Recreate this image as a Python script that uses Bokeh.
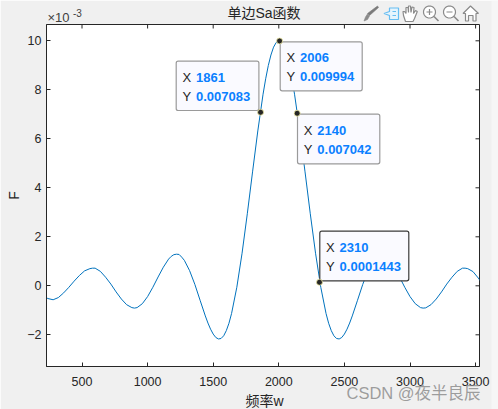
from math import pi, cos, sin
from bokeh.plotting import figure
from bokeh.layouts import column
from bokeh.models import FixedTicker, Label, BoxAnnotation, Range1d
from bokeh.core.properties import value
from bokeh.embed import file_html
from bokeh.resources import INLINE

# ---- data (F in units of 1e-3) ----
freq = [233, 240, 280, 320, 360, 400, 440, 480, 520, 560, 580, 600, 640, 680, 720, 760, 800, 840, 880, 900, 920,
        960, 1000, 1040, 1080, 1120, 1160, 1180, 1200, 1220, 1240, 1260, 1280, 1320, 1360, 1400, 1440, 1460, 1480,
        1500, 1520, 1540, 1560, 1580, 1600, 1620, 1640, 1680, 1720, 1760, 1800, 1840, 1880, 1900, 1920, 1940, 1960,
        1980, 2000, 2020, 2040, 2060, 2080, 2100, 2120, 2160, 2200, 2240, 2280, 2320, 2360, 2380, 2400, 2420, 2440,
        2460, 2480, 2500, 2520, 2540, 2560, 2600, 2640, 2680, 2720, 2740, 2760, 2780, 2800, 2820, 2840, 2880, 2920,
        2960, 3000, 3040, 3080, 3100, 3120, 3160, 3200, 3240, 3280, 3320, 3360, 3400, 3420, 3440, 3480, 3520, 3540]
amp = [-0.50, -0.52, -0.57, -0.48, -0.29, -0.06, 0.19, 0.42, 0.61, 0.70, 0.72, 0.72, 0.59, 0.35, 0.07, -0.25,
       -0.54, -0.77, -0.89, -0.91, -0.89, -0.73, -0.44, -0.06, 0.36, 0.76, 1.09, 1.20, 1.27, 1.29, 1.28, 1.17,
       1.04, 0.62, 0.06, -0.59, -1.23, -1.52, -1.77, -1.97, -2.11, -2.17, -2.15, -2.04, -1.83, -1.53, -1.13,
       -0.06, 1.33, 2.94, 4.65, 6.32, 7.82, 8.45, 8.99, 9.42, 9.74, 9.93, 10.0, 9.93, 9.74, 9.42, 8.99, 8.45,
       7.82, 6.32, 4.65, 2.94, 1.33, -0.06, -1.13, -1.53, -1.83, -2.04, -2.15, -2.17, -2.11, -1.97, -1.77,
       -1.52, -1.23, -0.59, 0.06, 0.62, 1.04, 1.17, 1.27, 1.29, 1.28, 1.20, 1.09, 0.76, 0.36, -0.06, -0.44,
       -0.73, -0.89, -0.91, -0.90, -0.77, -0.54, -0.25, 0.07, 0.35, 0.59, 0.72, 0.72, 0.70, 0.58, 0.32, 0.17]
tip_x = [1861, 2006, 2140, 2310]
tip_y = [7.083, 9.994, 7.042, 0.1443]
tip_y_text = ["0.007083", "0.009994", "0.007042", "0.0001443"]
x_ticks = [500, 1000, 1500, 2000, 2500, 3000, 3500]
y_ticks = [-2, 0, 2, 4, 6, 8, 10]

FONT = "Liberation Sans"
CJK = "Liberation Sans, Noto Sans CJK SC"
INK = "#262626"
BG = "#f0f0f0"
W, H = 498, 409

# image pixel -> data
def dx(px):
    return 500 + (px - 81.5) / 0.1312
def dy(py):
    return (285.3 - py) / 24.5

p = figure(width=W, height=H, output_backend="svg", toolbar_location=None,
           x_range=Range1d(dx(46), dx(479)), y_range=Range1d(dy(366), dy(24)),
           min_border_left=46, min_border_right=19, min_border_top=24, min_border_bottom=43,
           background_fill_color="white", border_fill_color=BG,
           outline_line_color=INK, outline_line_width=1, frame_align=False)
p.grid.visible = False

for ax in (p.xaxis[0], p.yaxis[0]):
    ax.major_tick_in = 4
    ax.major_tick_out = 0
    ax.minor_tick_line_color = None
    ax.major_tick_line_color = INK
    ax.axis_line_color = INK
    ax.major_label_text_color = INK
    ax.major_label_text_font = FONT
    ax.major_label_text_font_size = "12.5px"
p.xaxis[0].ticker = FixedTicker(ticks=x_ticks)
p.yaxis[0].ticker = FixedTicker(ticks=y_ticks)
p.xaxis[0].major_label_standoff = 10
p.yaxis[0].major_label_standoff = 5

# box ticks on the top and right sides
p.segment(x_ticks, [dy(24)] * 7, x_ticks, [dy(28)] * 7, line_color=INK, line_width=1)
p.segment([dx(479)] * 7, y_ticks, [dx(475)] * 7, y_ticks, line_color=INK, line_width=1)

p.line(freq, amp, line_color="#0072BD", line_width=1)
p.scatter(tip_x, tip_y, size=6, marker="circle", fill_color="#262626",
          line_color="#f5f0a8", line_width=0.8, level="overlay")

# data tips: left, right, top, bottom of the box in image pixels
boxes = [(175.7, 258.4, 60.7, 110.0), (279.7, 361.7, 41.3, 90.3),
         (297.0, 379.3, 113.7, 163.3), (319.3, 408.3, 230.7, 280.3)]
for i, (l, r, t, b) in enumerate(boxes):
    dark = i == 3
    p.add_layout(BoxAnnotation(left=dx(l), right=dx(r), top=dy(t), bottom=dy(b),
                               fill_color="#fafaff", fill_alpha=1, line_alpha=1,
                               line_color="#3a3a3a" if dark else "#9a9a9a", line_width=1.2,
                               border_radius=2, level="annotation"))
    for row, (key, val) in enumerate((("X", str(tip_x[i])), ("Y", tip_y_text[i]))):
        yy = dy(t + 15.8 + 19 * row)
        p.add_layout(Label(x=dx(l + 6.3), y=yy, text=key, text_font=FONT, text_font_size="13px",
                           text_color=INK, text_baseline="middle", text_align="left"))
        p.add_layout(Label(x=dx(l + 19.8), y=yy, text=val, text_font=FONT, text_font_size="13px",
                           text_font_style="bold", text_color="#0a80ff",
                           text_baseline="middle", text_align="left"))

# transparent sheet over the whole page for everything outside the plot box
o = figure(width=W, height=H, output_backend="svg", toolbar_location=None, margin=(-H, 0, 0, 0),
           x_range=Range1d(0, W), y_range=Range1d(H, 0), x_axis_type=None, y_axis_type=None,
           min_border=0, outline_line_color=None, background_fill_alpha=0, border_fill_alpha=0,
           frame_align=False)
o.grid.visible = False
o.quad(left=[491], right=[498], top=[0], bottom=[409], fill_color="#f6f6f6", line_color=None)

def label(px, py, text, size, font=FONT, color=INK, align="left", angle=0, alpha=1.0):
    o.text([px], [py], text=[text], text_font=value(font), text_font_size=value(size),
           text_color=color, text_align=align, text_baseline="middle", angle=angle, text_alpha=alpha)

label(263.5, 12, "单边Sa函数", "14px", font=CJK, align="center")
label(264, 400, "频率w", "14px", font=CJK, align="center")
label(13, 195, "F", "14px", align="center", angle=pi / 2)
label(47, 17, "×10", "13px", color="#404040")
label(72.5, 12, "-3", "10px", color="#404040")
label(346, 392, "CSDN @夜半良辰", "16.5px", font=CJK, color="#808080", alpha=0.75)

# figure toolbar icons
def icon(points, fill=None, line="#8a8a8a", width=1.2):
    xs = [a for a, _ in points]
    ys = [b for _, b in points]
    if fill:
        o.patch(xs, ys, fill_color=fill, line_color=line, line_width=width)
    else:
        o.line(xs, ys, line_color=line, line_width=width)
def ring(cx, cy, r):
    return [(cx + r * cos(2 * pi * k / 24), cy + r * sin(2 * pi * k / 24)) for k in range(24)]

icon([(377, 5.5), (378, 7), (369, 15), (367, 13)], fill="#7a7a7a", line="#7a7a7a", width=0.6)
icon([(367, 13.5), (369, 15.5), (367, 19), (363.5, 20.5), (365, 16.5)], fill="#8a8a8a", line="#8a8a8a", width=0.6)
icon([(389, 7.5), (398, 7.5), (398, 19), (389, 19), (389, 15), (383.5, 13), (389, 11)], line="#66bdf2", fill="#e6f4fd")
icon([(392, 11), (395.5, 11)], line="#66bdf2")
icon([(392, 15), (395.5, 15)], line="#66bdf2")
icon([(405, 21), (403, 15), (402.5, 11), (404, 11), (405.5, 13), (405.5, 7), (407.5, 7), (408, 12),
      (408, 5.5), (410, 5.5), (410.5, 12), (411.5, 6.5), (413.5, 7), (413, 13), (415, 10), (416.8, 11),
      (414, 18), (412.5, 21)], fill="white")
for cx in (429, 449):
    icon(ring(cx, 11.5, 6), fill="white")
    icon([(cx + 4.5, 16), (cx + 9, 20.5)], width=1.6)
    icon([(cx - 3, 11.5), (cx + 3, 11.5)])
icon([(429, 8.5), (429, 14.5)])
icon([(470, 5.5), (478, 13), (475.5, 13), (475.5, 20.5), (472.5, 20.5), (472.5, 15), (468, 15), (468, 20.5),
      (465, 20.5), (465, 13), (462.5, 13)], fill="white")

open("out.html", "w").write(file_html(column(p, o, spacing=0), INLINE))
